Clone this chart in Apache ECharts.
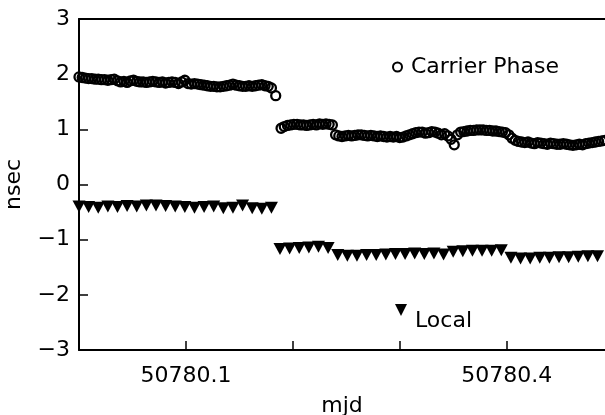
<!DOCTYPE html>
<html>
<head>
<meta charset="utf-8">
<script src="https://cdn.jsdelivr.net/npm/echarts@6/dist/echarts.min.js"></script>
<style>html,body{margin:0;padding:0;background:#fff}#c{width:605px;height:415px}</style>
</head>
<body>
<div id="c"></div>
<script>
var MJD0 = 50780;
// Carrier Phase: time offsets from MJD0 (days) and values (nsec)
var cpT1 = [0.000,0.003,0.006,0.009,0.012,0.015,0.018,0.021,0.024,0.027,0.030,0.033,0.036,0.039,0.042,0.045,0.048,0.051,0.054,0.057,0.060,0.063,0.066,0.069,0.072,0.075,0.078,0.081,0.084,0.087,0.090,0.093,0.096,0.099,0.102,0.105,0.108,0.111,0.114,0.117,0.120,0.123,0.126,0.129,0.132,0.135,0.138,0.141,0.144,0.147,0.150,0.153,0.156,0.159,0.162,0.165,0.168,0.171,0.174,0.177,0.180,0.184];
var cpV1 = [1.95,1.94,1.93,1.92,1.92,1.91,1.91,1.90,1.90,1.89,1.90,1.91,1.88,1.86,1.87,1.85,1.88,1.89,1.87,1.86,1.86,1.85,1.86,1.87,1.86,1.85,1.86,1.84,1.85,1.86,1.85,1.83,1.86,1.89,1.83,1.82,1.83,1.82,1.81,1.80,1.79,1.78,1.78,1.77,1.77,1.78,1.79,1.80,1.82,1.80,1.79,1.78,1.78,1.79,1.78,1.79,1.80,1.81,1.79,1.78,1.75,1.61];
var cpT2 = [0.189,0.192,0.195,0.198,0.201,0.204,0.207,0.210,0.213,0.216,0.219,0.222,0.225,0.228,0.231,0.234,0.237,0.240,0.243,0.246,0.249,0.252,0.255,0.258,0.261,0.264,0.267,0.270,0.273,0.276,0.279,0.282,0.285,0.288,0.291,0.294,0.297,0.300,0.303,0.306,0.309,0.312,0.315,0.318,0.321,0.324,0.327,0.330,0.333,0.336,0.339,0.342,0.345,0.348,0.351,0.354,0.357,0.360,0.363,0.366,0.369,0.372,0.375,0.378,0.381,0.384,0.387,0.390,0.393,0.396,0.399,0.402,0.405,0.408,0.411,0.414,0.417,0.420,0.423,0.426,0.429,0.432,0.435,0.438,0.441,0.444,0.447,0.450,0.453,0.456,0.459,0.462,0.465,0.468,0.471,0.474,0.477,0.480,0.483,0.486,0.489,0.492];
var cpV2 = [1.02,1.05,1.07,1.08,1.09,1.09,1.08,1.08,1.07,1.08,1.09,1.08,1.10,1.09,1.10,1.09,1.08,0.90,0.88,0.87,0.88,0.89,0.88,0.89,0.90,0.90,0.89,0.88,0.89,0.88,0.87,0.88,0.87,0.86,0.87,0.86,0.87,0.85,0.86,0.88,0.90,0.92,0.94,0.95,0.95,0.93,0.94,0.96,0.95,0.93,0.90,0.92,0.88,0.82,0.72,0.90,0.95,0.96,0.97,0.98,0.98,0.99,0.99,0.99,0.98,0.98,0.97,0.97,0.96,0.95,0.94,0.90,0.84,0.80,0.78,0.77,0.76,0.77,0.75,0.74,0.76,0.75,0.74,0.73,0.75,0.74,0.73,0.73,0.74,0.73,0.72,0.71,0.72,0.73,0.72,0.74,0.75,0.76,0.77,0.78,0.79,0.80];
// Local
var lcT1 = [0.000,0.009,0.018,0.027,0.036,0.045,0.054,0.063,0.072,0.081,0.090,0.099,0.108,0.117,0.126,0.135,0.144,0.153,0.162,0.171,0.180];
var lcV1 = [-0.40,-0.41,-0.42,-0.40,-0.41,-0.39,-0.40,-0.38,-0.38,-0.39,-0.40,-0.41,-0.42,-0.41,-0.40,-0.43,-0.42,-0.38,-0.43,-0.44,-0.42];
var lcT2 = [0.188,0.197,0.206,0.215,0.224,0.233,0.242,0.251,0.260,0.269,0.278,0.287,0.296,0.305,0.314,0.323,0.332,0.341,0.350,0.359,0.368,0.377,0.386,0.395,0.404,0.413,0.422,0.431,0.440,0.449,0.458,0.467,0.476,0.485];
var lcV2 = [-1.17,-1.16,-1.15,-1.14,-1.13,-1.15,-1.28,-1.29,-1.29,-1.28,-1.28,-1.27,-1.26,-1.26,-1.25,-1.26,-1.25,-1.27,-1.22,-1.21,-1.20,-1.20,-1.20,-1.19,-1.33,-1.34,-1.34,-1.33,-1.33,-1.32,-1.32,-1.31,-1.30,-1.30];
var xLabels = ['50780.1', '50780.4'];
var yTicks = [-3, -2, -1, 0, 1, 2, 3];

function pairs(ts, vs) { return ts.map(function (t, i) { return [MJD0 + t, vs[i]]; }); }
var cpData = pairs(cpT1, cpV1).concat(pairs(cpT2, cpV2));
var lcData = pairs(lcT1, lcV1).concat(pairs(lcT2, lcV2));

var FONT = 'DejaVu Sans';
var TRI_DOWN = 'path://M0,0L10,0L5,10Z';
var chart = echarts.init(document.getElementById('c'), null, { renderer: 'canvas' });
chart.setOption({
  animation: false,
  backgroundColor: '#fff',
  textStyle: { fontFamily: FONT, color: '#000' },
  grid: { left: 79, right: 0, top: 19, bottom: 65, containLabel: false, outerBoundsMode: 'none' },
  legend: [
    { data: ['Carrier Phase'], left: 387, top: 51, itemWidth: 9, itemHeight: 9, itemGap: 0,
      textStyle: { fontFamily: FONT, fontSize: 22, color: '#000', padding: [0, 0, 0, 4] } },
    { data: [{ name: 'Local', icon: TRI_DOWN }], left: 390, top: 283, itemWidth: 12, itemHeight: 12, itemGap: 0,
      formatter: function (n) { return '\n' + n; },
      textStyle: { fontFamily: FONT, fontSize: 22, lineHeight: 22, color: '#000', padding: [0, 0, 0, 3] } }
  ],
  xAxis: [{
    type: 'value', min: MJD0, max: MJD0 + 0.492, interval: 0.1,
    name: 'mjd', nameLocation: 'middle', nameGap: 45,
    nameTextStyle: { fontFamily: FONT, fontSize: 22, color: '#000' },
    axisLine: { show: true, onZero: false, lineStyle: { color: '#000', width: 2 } },
    axisTick: { show: true, inside: true, length: 9, lineStyle: { color: '#000', width: 1.5 } },
    axisLabel: { margin: 15, fontFamily: FONT, fontSize: 22, color: '#000', showMaxLabel: false, showMinLabel: false,
      formatter: function (v) { var s = v.toFixed(1); return xLabels.indexOf(s) >= 0 ? s : ''; } },
    splitLine: { show: false }
  }, {
    type: 'value', position: 'top', min: MJD0, max: MJD0 + 0.492,
    axisLine: { show: true, onZero: false, lineStyle: { color: '#000', width: 2 } },
    axisTick: { show: false }, axisLabel: { show: false }, splitLine: { show: false }
  }],
  yAxis: {
    type: 'value', min: yTicks[0], max: yTicks[yTicks.length - 1], interval: 1,
    name: 'nsec', nameLocation: 'middle', nameGap: 54, nameRotate: 90,
    nameTextStyle: { fontFamily: FONT, fontSize: 22, color: '#000' },
    axisLine: { show: true, onZero: false, lineStyle: { color: '#000', width: 2 } },
    axisTick: { show: true, inside: true, length: 9, lineStyle: { color: '#000', width: 1.5 } },
    axisLabel: { margin: 9, fontFamily: FONT, fontSize: 22, color: '#000',
      formatter: function (v) { return String(v).replace('-', '\u2212'); } },
    splitLine: { show: false }
  },
  series: [
    { name: 'Carrier Phase', type: 'scatter', data: cpData, symbol: 'circle', symbolSize: 9,
      itemStyle: { color: 'rgba(0,0,0,0)', borderColor: '#000', borderWidth: 2.3, opacity: 1 } },
    { name: 'Local', type: 'scatter', data: lcData, symbol: TRI_DOWN, symbolSize: [13, 12],
      itemStyle: { color: '#000', opacity: 1 } }
  ]
});
</script>
</body>
</html>
